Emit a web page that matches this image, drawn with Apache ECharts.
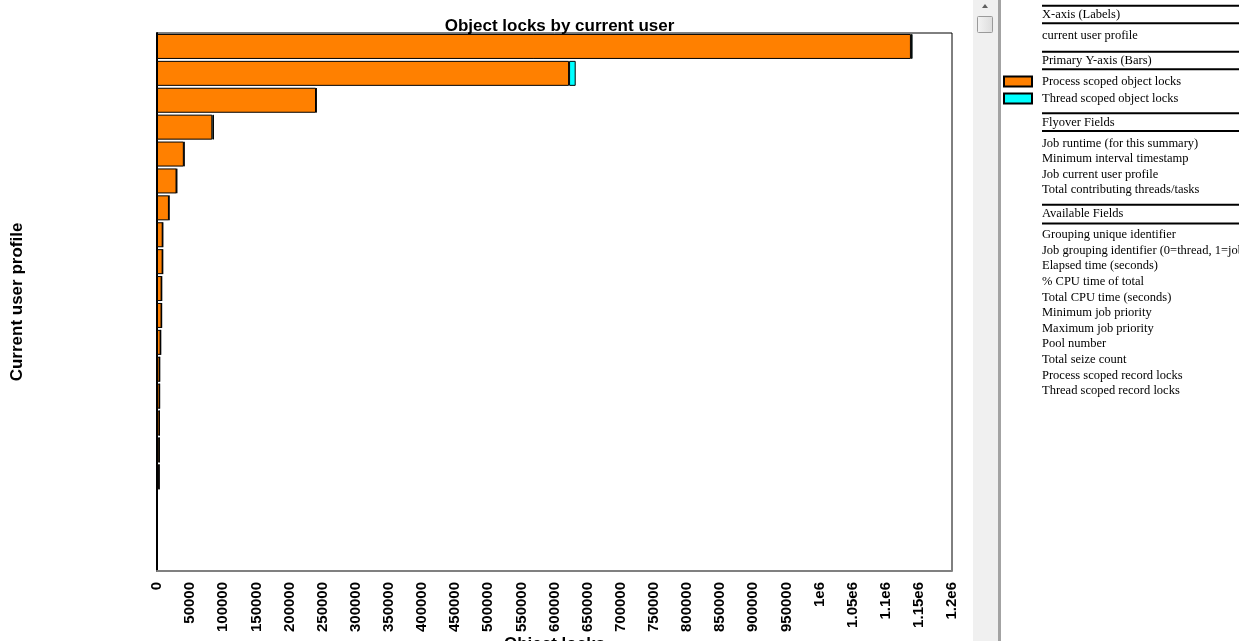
<!DOCTYPE html>
<html>
<head>
<meta charset="utf-8">
<script src="https://cdn.jsdelivr.net/npm/echarts@6/dist/echarts.min.js"></script>
<style>html,body{margin:0;padding:0;background:#fff;}#c{width:1239px;height:641px;}</style>
</head>
<body>
<div id="c"></div>
<script>
// ---- data ----
const categories = ['USER01','USER02','USER03','USER04','USER05','USER06','USER07','USER08','USER09','USER10',
                    'USER11','USER12','USER13','USER14','USER15','USER16','USER17','USER18','USER19','USER20'];
const processLocks = [1138000, 622000, 240000, 83500, 40500, 29500, 18000, 8600, 8500, 7000,
                      6900, 5500, 4000, 3900, 3700, 3400, 3200, 600, 400, 200];
const threadLocks  = [2500, 10000, 800, 2500, 900, 700, 400, 200, 200, 150,
                      150, 100, 100, 100, 100, 100, 100, 50, 30, 20];
const seriesNames = ['Process scoped object locks', 'Thread scoped object locks'];
const xTicks = {min: 0, max: 1200000, step: 50000};

const panelSections = [
  {header: 'X-axis (Labels)', items: ['current user profile']},
  {header: 'Primary Y-axis (Bars)', items: []},
  {header: 'Flyover Fields', items: ['Job runtime (for this summary)', 'Minimum interval timestamp',
                                     'Job current user profile', 'Total contributing threads/tasks']},
  {header: 'Available Fields', items: ['Grouping unique identifier', 'Job grouping identifier (0=thread, 1=job)',
    'Elapsed time (seconds)', '% CPU time of total', 'Total CPU time (seconds)', 'Minimum job priority',
    'Maximum job priority', 'Pool number', 'Total seize count', 'Process scoped record locks',
    'Thread scoped record locks']}
];

// ---- side panel graphics ----
const serif = '"Liberation Serif", "Times New Roman", serif';
const fs = 12.5;
const g = [];
// scrollbar
g.push({type:'rect', shape:{x:973, y:0, width:25, height:641}, style:{fill:'#f0f0f0'}, silent:true});
g.push({type:'rect', shape:{x:998, y:0, width:3, height:641}, style:{fill:'#a3a3a3'}, silent:true});
g.push({type:'polygon', shape:{points:[[982,8],[988,8],[985,4]]}, style:{fill:'#606060'}, silent:true});
g.push({type:'rect', shape:{x:977.5, y:16.5, width:15, height:16, r:1},
        style:{fill:{type:'linear',x:0,y:0,x2:1,y2:0,colorStops:[{offset:0,color:'#f4f4f4'},{offset:1,color:'#dcdcdc'}]},
               stroke:'#9a9a9a', lineWidth:1}, silent:true});
function hline(y){ g.push({type:'rect', shape:{x:1042, y:y-1, width:200, height:2}, style:{fill:'#000'}, silent:true}); }
function txt(t, y){ g.push({type:'text', x:1042, y:y, style:{text:t, fill:'#000', font: fs + 'px ' + serif, verticalAlign:'middle', align:'left'}, silent:true}); }
// section 0
hline(5.7); txt(panelSections[0].header, 15); hline(23.3);
txt(panelSections[0].items[0], 35.7);
// section 1
hline(51.7); txt(panelSections[1].header, 60.7); hline(69.3);
// section 2
hline(113.3); txt(panelSections[2].header, 122.3); hline(131);
panelSections[2].items.forEach((t,i)=>txt(t, 143.3 + i*15.5));
// section 3
hline(204.7); txt(panelSections[3].header, 214); hline(223.5);
panelSections[3].items.forEach((t,i)=>txt(t, 235 + i*15.6));

function fmt(v){
  if (v >= 1000000) { return (v/1000000).toString() + 'e6'; }
  return String(v);
}

const chart = echarts.init(document.getElementById('c'), null, {renderer:'canvas'});
chart.setOption({
  animation: false,
  backgroundColor: '#fff',
  title: {
    text: 'Object locks by current user',
    left: 554.5, textAlign: 'center', top: 13,
    textStyle: {fontFamily: 'Arial, "Liberation Sans", sans-serif', fontWeight: 'bold', fontSize: 17, color: '#000'}
  },
  legend: {
    orient: 'vertical', left: 1003, top: 75, padding: 0,
    itemWidth: 28, itemHeight: 10, itemGap: 4, icon: 'rect',
    data: seriesNames,
    textStyle: {fontFamily: serif, fontSize: fs, color: '#000', padding: [0,0,0,5]},
    selectedMode: false
  },
  grid: {left: 157, right: 287, top: 33, height: 538, show: true, borderColor: '#000', borderWidth: 1,
         backgroundColor: '#fff', containLabel: false, outerBoundsMode: 'none'},
  xAxis: {
    type: 'value', min: xTicks.min, max: xTicks.max, interval: xTicks.step,
    name: 'Object locks', nameLocation: 'middle', nameGap: 65, nameMoveOverlap: false,
    nameTextStyle: {fontFamily: 'Arial, "Liberation Sans", sans-serif', fontWeight: 'bold', fontSize: 17, color: '#000'},
    axisLine: {show: true, lineStyle: {color: '#808080', width: 2}},
    axisTick: {show: false},
    splitLine: {show: false},
    axisLabel: {rotate: 90, fontSize: 15, fontWeight: 'bold', color: '#000', margin: 11,
                fontFamily: 'Arial, "Liberation Sans", sans-serif',
                formatter: fmt, showMinLabel: true, showMaxLabel: true, hideOverlap: false, interval: 0}
  },
  yAxis: {
    type: 'category', data: categories, inverse: true,
    name: 'Current user profile', nameLocation: 'middle', nameGap: 131, nameMoveOverlap: false,
    nameTextStyle: {fontFamily: 'Arial, "Liberation Sans", sans-serif', fontWeight: 'bold', fontSize: 17, color: '#000'},
    axisLine: {show: true, lineStyle: {color: '#000', width: 2}},
    axisTick: {show: false},
    axisLabel: {show: false},
    splitLine: {show: false}
  },
  series: [
    {name: seriesNames[0], type: 'bar', stack: 'locks', data: processLocks, barWidth: 25,
     itemStyle: {color: '#ff8000', borderColor: '#000', borderWidth: 1}},
    {name: seriesNames[1], type: 'bar', stack: 'locks', data: threadLocks, barWidth: 25,
     itemStyle: {color: '#00ffff', borderColor: '#000', borderWidth: 1}}
  ],
  graphic: g
});
</script>
</body>
</html>
